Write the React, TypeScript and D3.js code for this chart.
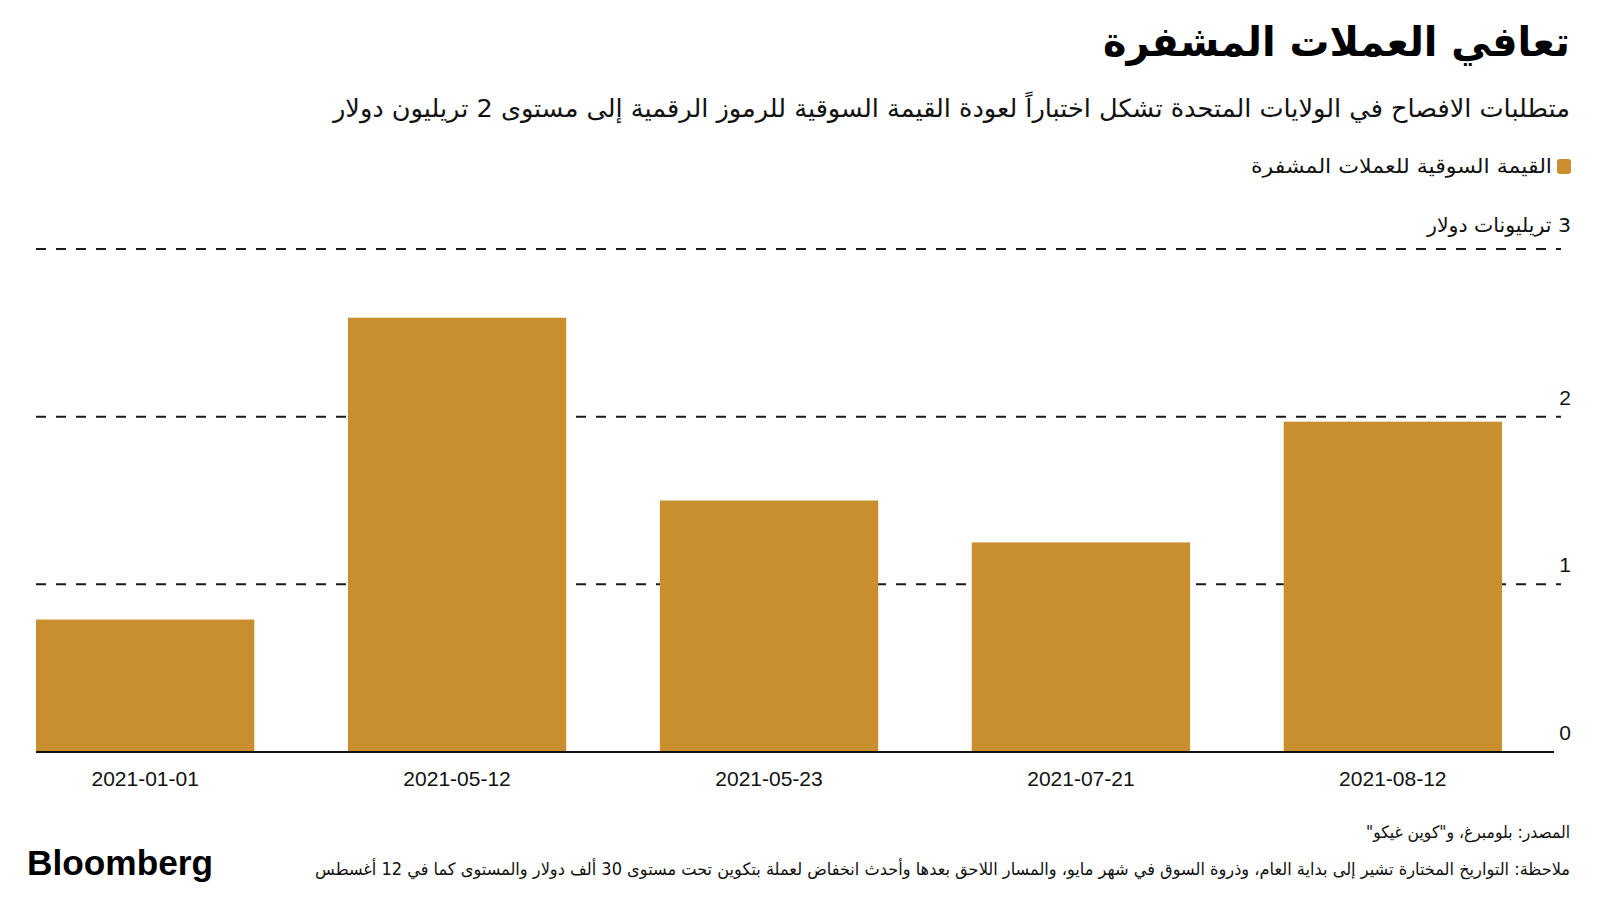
import React, { useEffect, useRef } from "react";
import * as d3 from "d3";

const categories = ["2021-01-01", "2021-05-12", "2021-05-23", "2021-07-21", "2021-08-12"];
const marketCap = [0.79, 2.59, 1.5, 1.25, 1.97];
const yTicks = [0, 1, 2, 3];
const yTickLabels = ["0", "1", "2", "3 تريليونات دولار"];

const title = "تعافي العملات المشفرة";
const subtitle =
  "متطلبات الافصاح في الولايات المتحدة تشكل اختباراً لعودة القيمة السوقية للرموز الرقمية إلى مستوى 2 تريليون دولار";
const legendLabel = "القيمة السوقية للعملات المشفرة";
const sourceText = "المصدر: بلومبرغ، و\"كوين غيكو\"";
const noteText =
  "ملاحظة: التواريخ المختارة تشير إلى بداية العام، وذروة السوق في شهر مايو، والمسار اللاحق بعدها وأحدث انخفاض لعملة بتكوين تحت مستوى 30 ألف دولار والمستوى كما في 12 أغسطس";

const W = 1600;
const H = 900;
const GOLD = "#C98F2E";
const AR_FONT = "'DejaVu Sans', 'Noto Sans', sans-serif";
const LAT_FONT = "'Liberation Sans', Arial, sans-serif";

export default function App() {
  const ref = useRef<SVGSVGElement | null>(null);

  useEffect(() => {
    const svg = d3.select(ref.current);
    svg.selectAll("*").remove();

    const x = d3
      .scaleBand<string>()
      .domain(categories)
      .range([36, 1502])
      .paddingInner(0.3)
      .paddingOuter(0);
    const y = d3.scaleLinear().domain([0, 3]).range([752, 249]);

    const rtlText = (
      txt: string,
      xr: number,
      yb: number,
      size: number,
      len: number,
      weight = "normal",
      fill = "#111"
    ) => {
      const t = svg
        .append("text")
        .attr("x", xr)
        .attr("y", yb)
        .attr("direction", "rtl")
        .attr("text-anchor", "start")
        .attr("font-family", AR_FONT)
        .attr("font-stretch", "condensed")
        .attr("font-size", size)
        .attr("font-weight", weight)
        .attr("fill", fill)
        .text(txt);
      const node = t.node() as SVGTextElement | null;
      if (node) {
        const natural = node.getComputedTextLength();
        if (natural > len * 1.02) {
          t.attr("font-size", (size * len) / natural);
        }
      }
      t.attr("textLength", len).attr("lengthAdjust", "spacingAndGlyphs");
    };

    // Title, subtitle
    rtlText(title, 1570, 56, 41, 467, "bold", "#000");
    rtlText(subtitle, 1570, 117, 25, 1237, "normal", "#111");

    // Legend
    svg
      .append("rect")
      .attr("x", 1557)
      .attr("y", 159)
      .attr("width", 14)
      .attr("height", 15)
      .attr("rx", 3)
      .attr("fill", GOLD);
    rtlText(legendLabel, 1552, 173, 20, 301, "normal", "#111");

    // Gridlines (dashed), excluding 0
    svg
      .append("g")
      .selectAll("line")
      .data(yTicks.filter((t) => t > 0))
      .join("line")
      .attr("x1", 36)
      .attr("x2", 1561)
      .attr("y1", (d) => y(d))
      .attr("y2", (d) => y(d))
      .attr("stroke", "#1a1a1a")
      .attr("stroke-width", 2)
      .attr("stroke-dasharray", "10,10");

    // Bars
    svg
      .append("g")
      .selectAll("rect")
      .data(categories)
      .join("rect")
      .attr("x", (d) => x(d)!)
      .attr("width", x.bandwidth())
      .attr("y", (_d, i) => y(marketCap[i]))
      .attr("height", (_d, i) => y(0) - y(marketCap[i]))
      .attr("fill", GOLD);

    // Zero axis line
    svg
      .append("line")
      .attr("x1", 36)
      .attr("x2", 1554)
      .attr("y1", y(0))
      .attr("y2", y(0))
      .attr("stroke", "#111")
      .attr("stroke-width", 2);

    // Y tick labels
    yTicks.forEach((t, i) => {
      if (i === yTicks.length - 1) {
        rtlText(yTickLabels[i], 1571, y(t) - 17, 20, 144, "normal", "#111");
      } else {
        svg
          .append("text")
          .attr("x", 1571)
          .attr("y", y(t) - 12)
          .attr("text-anchor", "end")
          .attr("font-family", LAT_FONT)
          .attr("font-size", 21)
          .attr("fill", "#111")
          .text(yTickLabels[i]);
      }
    });

    // X labels
    svg
      .append("g")
      .selectAll("text")
      .data(categories)
      .join("text")
      .attr("x", (d) => x(d)! + x.bandwidth() / 2)
      .attr("y", 786)
      .attr("text-anchor", "middle")
      .attr("font-family", LAT_FONT)
      .attr("font-size", 21)
      .attr("fill", "#111")
      .text((d) => d);

    // Footer
    rtlText(sourceText, 1570, 838, 17, 204, "normal", "#111");
    rtlText(noteText, 1570, 875, 17, 1255, "normal", "#111");

    svg
      .append("text")
      .attr("x", 27)
      .attr("y", 875)
      .attr("font-family", LAT_FONT)
      .attr("font-size", 35)
      .attr("font-weight", "bold")
      .attr("fill", "#000")
      .attr("textLength", 186)
      .attr("lengthAdjust", "spacingAndGlyphs")
      .text("Bloomberg");
  }, []);

  return (
    <svg
      ref={ref}
      width={W}
      height={H}
      viewBox={`0 0 ${W} ${H}`}
      style={{ position: "absolute", left: 0, top: 0, background: "#fff" }}
    />
  );
}
